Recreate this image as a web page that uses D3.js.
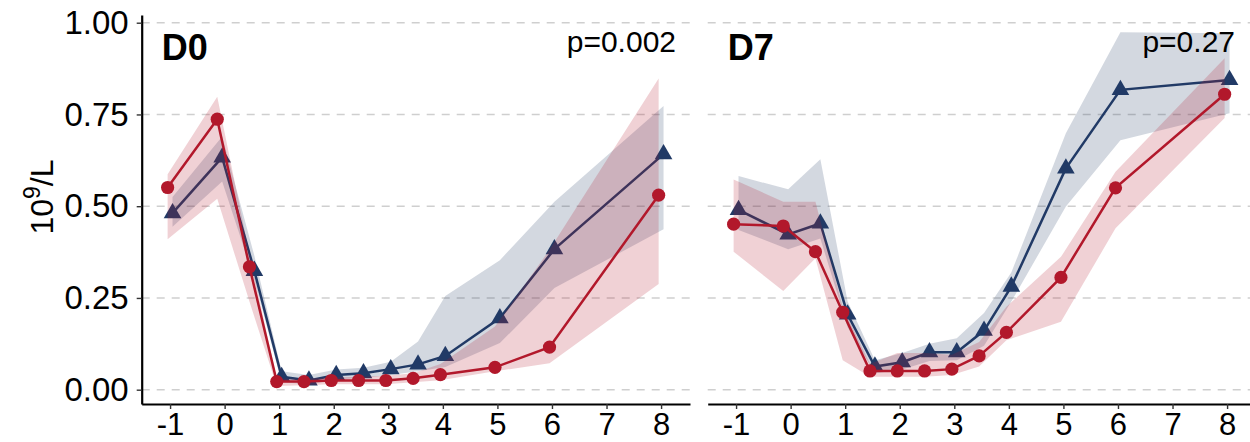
<!DOCTYPE html>
<html><head><meta charset="utf-8">
<script src="https://cdn.jsdelivr.net/npm/d3@7"></script>
<style>html,body{margin:0;padding:0;background:#fff;}svg{display:block;font-family:"Liberation Sans",Arial,sans-serif;}</style>
</head><body>
<svg id="chart" width="1250" height="442"></svg>
<script>
// ---- data ----
const times = [-1, -0.09, 0.5, 1, 1.5, 2, 2.5, 3, 3.5, 4, 5, 6, 8];
const xTicks = [-1, 0, 1, 2, 3, 4, 5, 6, 7, 8];
const yTicks = [0, 0.25, 0.5, 0.75, 1.0];
const panels = ["D0", "D7"];
const pValues = ["p=0.002", "p=0.27"];

const d0Red   = [0.551, 0.737, 0.335, 0.022, 0.022, 0.025, 0.025, 0.025, 0.031, 0.041, 0.061, 0.116, 0.530];
const d0RedLo = [0.410, 0.520, 0.240, 0.010, 0.012, 0.015, 0.015, 0.015, 0.020, 0.026, 0.050, 0.072, 0.288];
const d0RedHi = [0.587, 0.798, 0.370, 0.030, 0.030, 0.033, 0.035, 0.038, 0.045, 0.070, 0.172, 0.381, 0.848];
const d0Navy   = [0.481, 0.633, 0.324, 0.035, 0.025, 0.040, 0.045, 0.056, 0.069, 0.092, 0.195, 0.383, 0.642];
const d0NavyLo = [0.444, 0.567, 0.300, 0.020, 0.015, 0.028, 0.032, 0.040, 0.050, 0.062, 0.127, 0.277, 0.437];
const d0NavyHi = [0.525, 0.690, 0.365, 0.050, 0.040, 0.055, 0.060, 0.076, 0.131, 0.255, 0.353, 0.512, 0.773];

const d7Red   = [0.451, 0.446, 0.376, 0.211, 0.051, 0.051, 0.051, 0.056, 0.092, 0.156, 0.306, 0.550, 0.805];
const d7RedLo = [0.376, 0.269, 0.358, 0.080, 0.035, 0.035, 0.035, 0.040, 0.063, 0.135, 0.185, 0.440, 0.740];
const d7RedHi = [0.573, 0.512, 0.512, 0.225, 0.070, 0.100, 0.100, 0.095, 0.130, 0.226, 0.362, 0.594, 0.903];
const d7Navy   = [0.490, 0.423, 0.453, 0.205, 0.063, 0.075, 0.102, 0.102, 0.161, 0.281, 0.603, 0.817, 0.844];
const d7NavyLo = [0.435, 0.383, 0.412, 0.170, 0.045, 0.055, 0.078, 0.080, 0.120, 0.240, 0.499, 0.680, 0.753];
const d7NavyHi = [0.582, 0.546, 0.628, 0.240, 0.080, 0.100, 0.125, 0.140, 0.209, 0.319, 0.699, 0.974, 0.971];

const seriesByPanel = [
  {red: [d0Red, d0RedLo, d0RedHi], navy: [d0Navy, d0NavyLo, d0NavyHi]},
  {red: [d7Red, d7RedLo, d7RedHi], navy: [d7Navy, d7NavyLo, d7NavyHi]}
];

// ---- styles ----
const RED = "#B2182B", NAVY = "#213A66";
const FONT = '"Liberation Sans",Arial,sans-serif';
const dodge = 0.045;
const svg = d3.select("#chart");

const y = d3.scaleLinear().domain([-0.039, 1.021]).range([404, 15]);
const panelRanges = [[141.7, 690], [707.7, 1256]];

panels.forEach((name, i) => {
  const x = d3.scaleLinear().domain([-1.52, 8.53]).range(panelRanges[i]);
  const g = svg.append("g");

  // grid
  g.selectAll("line.grid").data(yTicks).join("line")
    .attr("x1", panelRanges[i][0]).attr("x2", Math.min(panelRanges[i][1], 1250))
    .attr("y1", d => y(d)).attr("y2", d => y(d))
    .attr("stroke", "#CFCFCF").attr("stroke-width", 1.6).attr("stroke-dasharray", "8,7");

  const groups = [
    {vals: seriesByPanel[i].navy, color: NAVY, off: dodge, shape: "tri"},
    {vals: seriesByPanel[i].red, color: RED, off: -dodge, shape: "circ"}
  ];
  groups.forEach(s => {
    const pts = times.map((t, k) => ({x: t + s.off, v: s.vals[0][k], lo: s.vals[1][k], hi: s.vals[2][k]}));
    g.append("path").datum(pts)
      .attr("d", d3.area().x(d => x(d.x)).y0(d => y(d.lo)).y1(d => y(d.hi)))
      .attr("fill", s.color).attr("fill-opacity", 0.2);
    g.append("path").datum(pts)
      .attr("d", d3.line().x(d => x(d.x)).y(d => y(d.v)))
      .attr("fill", "none").attr("stroke", s.color).attr("stroke-width", 2.5);
    if (s.shape === "circ") {
      g.selectAll(null).data(pts).join("circle")
        .attr("cx", d => x(d.x)).attr("cy", d => y(d.v)).attr("r", 6.6).attr("fill", s.color);
    } else {
      g.selectAll(null).data(pts).join("path")
        .attr("d", d3.symbol(d3.symbolTriangle, 135))
        .attr("transform", d => `translate(${x(d.x)},${y(d.v)})`).attr("fill", s.color);
    }
  });

  // x axis
  const xa = g.append("g").attr("transform", "translate(0,404)")
    .call(d3.axisBottom(x).tickValues(xTicks).tickFormat(d => String(d)).tickSize(5).tickPadding(4).tickSizeOuter(0));
  xa.select(".domain").attr("stroke", "#000").attr("stroke-width", 2.2);
  xa.selectAll(".tick line").attr("stroke", "#333").attr("stroke-width", 1.4);
  xa.selectAll(".tick text").attr("font-size", 31).attr("fill", "#000").attr("font-family", FONT);

  if (i === 0) {
    const ya = g.append("g").attr("transform", `translate(${panelRanges[0][0]},0)`)
      .call(d3.axisLeft(y).tickValues(yTicks).tickFormat(d3.format(".2f")).tickSize(5).tickPadding(8).tickSizeOuter(0));
    ya.select(".domain").attr("stroke", "#000").attr("stroke-width", 2.2);
    ya.selectAll(".tick line").attr("stroke", "#333").attr("stroke-width", 1.4);
    ya.selectAll(".tick text").attr("font-size", 33).attr("fill", "#000").attr("font-family", FONT);
  }

  // panel label and p-value
  g.append("text").attr("x", x(-1.52) + 20).attr("y", 60)
    .attr("font-size", 36).attr("font-weight", "bold").text(name);
  g.append("text").attr("x", i === 0 ? 676 : 1235).attr("y", 52)
    .attr("text-anchor", "end").attr("font-size", 30).text(pValues[i]);
});

// y axis title
const yt = svg.append("text").attr("transform", "translate(53,197) rotate(-90)")
  .attr("text-anchor", "middle").attr("font-size", 32);
yt.append("tspan").text("10");
yt.append("tspan").attr("font-size", 23).attr("dy", -13).text("9");
yt.append("tspan").attr("dy", 13).text("/L");
</script>
</body></html>
